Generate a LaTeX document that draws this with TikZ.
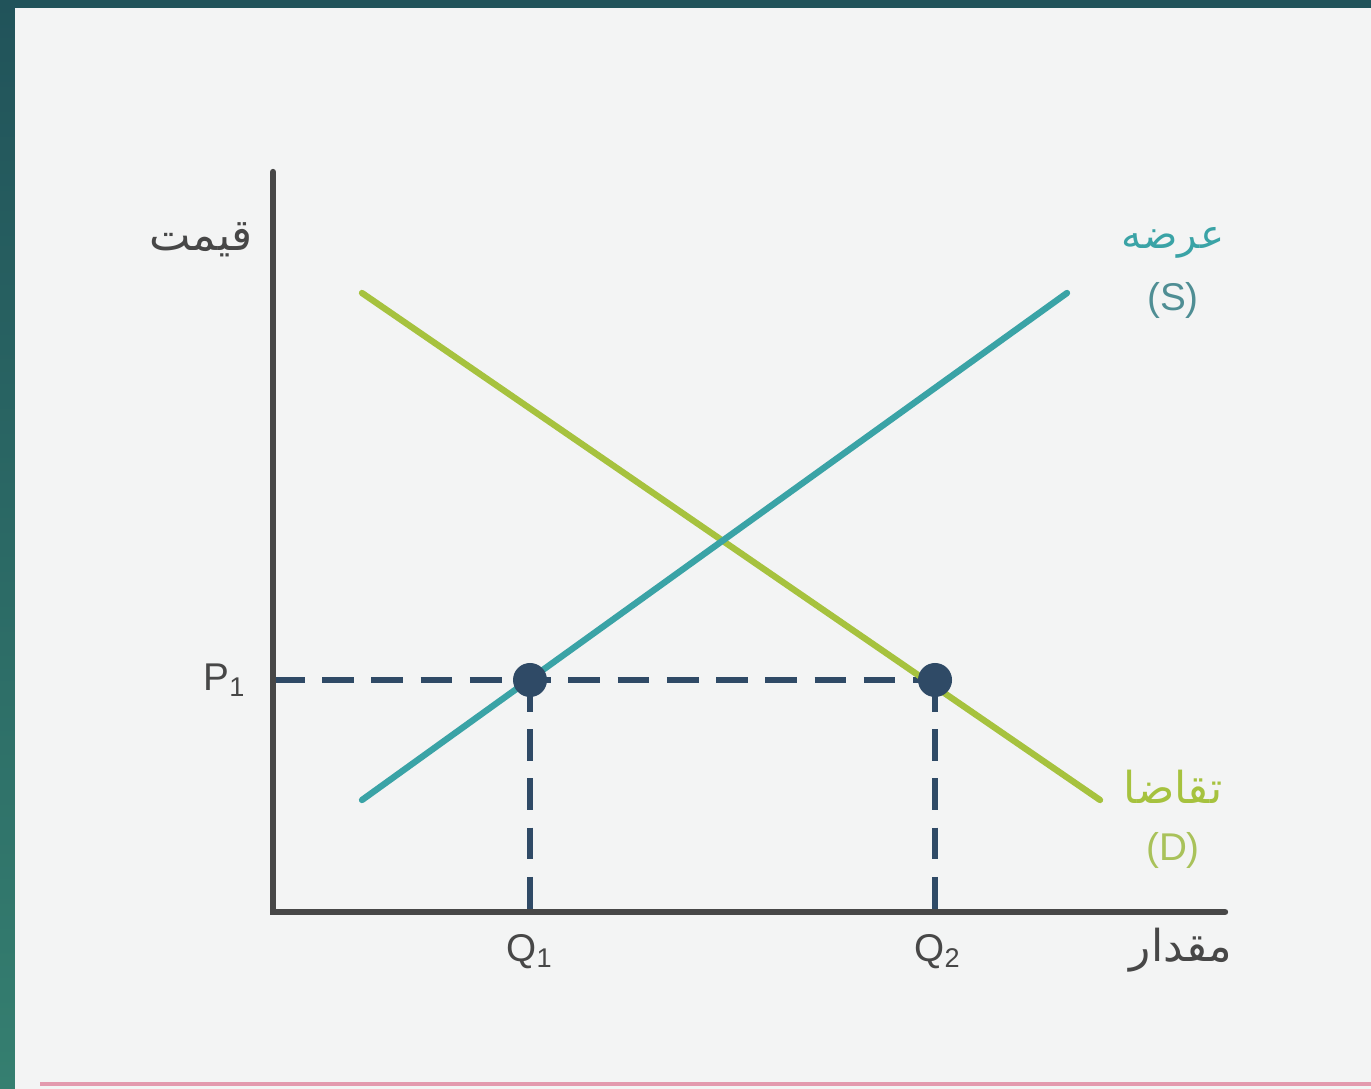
\documentclass[tikz,border=0pt]{standalone}
\usepackage{fontspec}
\setmainfont{Liberation Sans}
\newfontfamily\arabicfont[Script=Arabic]{DejaVu Sans}
\TeXXeTstate=1
\usepackage{xcolor}
\definecolor{frametop}{HTML}{21535A}
\definecolor{framebot}{HTML}{357F70}
\definecolor{panel}{HTML}{F3F4F4}
\definecolor{axisgray}{HTML}{474747}
\definecolor{guideblue}{HTML}{2F4A66}
\definecolor{supplyteal}{HTML}{3AA3A6}
\definecolor{supplytext}{HTML}{4F8E94}
\definecolor{demandgreen}{HTML}{A6C23E}
\definecolor{demandtext}{HTML}{A9C25A}
\definecolor{pinkline}{HTML}{E39AAE}
\usetikzlibrary{positioning}

\begin{document}
\begin{tikzpicture}[x=0.01cm,y=-0.01cm,
  axisline/.style={line width=1.8pt,color=axisgray,line cap=round},
  curve/.style={line width=1.8pt,line cap=round},
  guide/.style={line width=1.5pt,color=guideblue,dash pattern=on 9pt off 5pt},
  dot/.style={circle,fill=guideblue,minimum size=0.34cm,inner sep=0pt},
  lbl/.style={font=\fontsize{11}{13}\selectfont,text=axisgray},
  farsi/.style={font=\arabicfont\fontsize{12.5}{15}\selectfont}]
\useasboundingbox (0,0) rectangle (1371,1089);
\fill[top color=frametop,bottom color=framebot] (0,0) rectangle (1371,1089);
\fill[panel] (15,8) rectangle (1371,1089);
\draw[pinkline,line width=1.2pt] (40,1084) -- (1371,1084);

\coordinate (O) at (273,912);
\coordinate (ytip) at (273,172);
\coordinate (xtip) at (1225,912);
\coordinate (E1) at (530,680);
\coordinate (E2) at (935,680);
\coordinate (s0) at (362,800);
\coordinate (s1) at (1067,293);
\coordinate (d0) at (362,293);
\coordinate (d1) at (1100,800);

\draw[guide] (O |- E1) -- (E2);
\draw[guide] (E1) -- (E1 |- O);
\draw[guide] (E2) -- (E2 |- O);
\draw[axisline] (ytip) -- (O) -- (xtip);
\draw[curve,demandgreen] (d0) -- (d1);
\draw[curve,supplyteal] (s0) -- (s1);
\node[dot] (e1) at (E1) {};
\node[dot] (e2) at (E2) {};

\node[farsi,text=axisgray,anchor=east,inner sep=0pt] (price) at (253,240) {\beginR قیمت\endR};
\node[farsi,text=axisgray] (qty) at (1181,950) {\beginR مقدار\endR};
\node[lbl] (p1) at (225,680) {P\textsubscript{1}};
\node[lbl] (q1) at (530,952) {Q\textsubscript{1}};
\node[lbl] (q2) at (938,952) {Q\textsubscript{2}};
\node[farsi,text=supplyteal,font=\arabicfont\fontsize{11.5}{14}\selectfont] (slbl) at (1173,243) {\beginR عرضه\endR};
\node[lbl,text=supplytext] (sletter) at (1173,300) {(S)};
\node[farsi,text=demandgreen] (dlbl) at (1173,787) {\beginR تقاضا\endR};
\node[lbl,text=demandtext] (dletter) at (1173,850) {(D)};
\end{tikzpicture}
\end{document}
